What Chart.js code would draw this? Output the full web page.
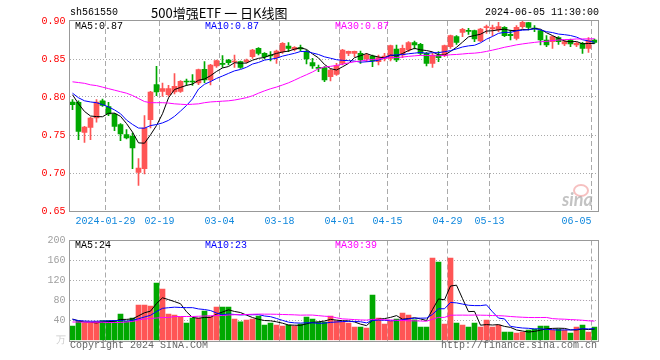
<!DOCTYPE html>
<html>
<head>
<meta charset="utf-8">
<script src="https://cdn.jsdelivr.net/npm/chart.js@4.4.1/dist/chart.umd.min.js"></script>
<style>
  body { margin: 0; background: #fff; }
  #wrap { position: relative; width: 660px; height: 360px; overflow: hidden; font-family: "Liberation Mono", "DejaVu Sans Mono", monospace; font-size: 10px; }
  .txt { position: absolute; white-space: pre; line-height: 12px; }
  #kbox { position: absolute; left: 0; top: 0; width: 660px; height: 231px; }
  #vbox { position: absolute; left: 0; top: 230px; width: 660px; height: 130px; }
</style>
</head>
<body>
<div id="wrap">
  <div id="kbox"><canvas id="kchart"></canvas></div>
  <div id="vbox"><canvas id="vchart"></canvas></div>

  <div class="txt" style="left:70px;top:7px;color:#000">sh561550</div>
  <div class="txt" style="left:151px;top:5px;font-family:'Noto Sans CJK SC';font-size:13px;line-height:15px;color:#000">500增强ETF 一 日K线图</div>
  <div class="txt" style="left:485px;top:7px;color:#000">2024-06-05 11:30:00</div>

  <div class="txt" style="left:75px;top:21px;color:#000">MA5:0.87</div>
  <div class="txt" style="left:205px;top:21px;color:#0000ff">MA10:0.87</div>
  <div class="txt" style="left:335px;top:21px;color:#ff00ff">MA30:0.87</div>

  <div class="txt" style="left:75px;top:240px;color:#000">MA5:24</div>
  <div class="txt" style="left:205px;top:240px;color:#0000ff">MA10:23</div>
  <div class="txt" style="left:335px;top:240px;color:#ff00ff">MA30:39</div>

  <div class="txt" style="left:70px;top:340px;color:#666">Copyright 2024 SINA.COM</div>
  <div class="txt" style="left:441px;top:340px;color:#666">http://finance.sina.com.cn</div>

  <div style="position:absolute;left:573px;top:184px;width:12px;height:9px;border:2px solid rgba(240,150,150,0.6);border-radius:50%"></div>
  <div class="txt" style="left:562px;top:190px;font-family:Lato;font-style:italic;font-weight:bold;font-size:18px;line-height:18px;color:rgba(170,170,170,0.7)">sina</div>
</div>

<script>
"use strict";

var dates = [
  '2024-01-19','2024-01-22','2024-01-23','2024-01-24','2024-01-25','2024-01-26','2024-01-29','2024-01-30','2024-01-31',
  '2024-02-01','2024-02-02','2024-02-05','2024-02-06','2024-02-07','2024-02-08','2024-02-19','2024-02-20','2024-02-21',
  '2024-02-22','2024-02-23','2024-02-26','2024-02-27','2024-02-28','2024-02-29',
  '2024-03-01','2024-03-04','2024-03-05','2024-03-06','2024-03-07','2024-03-08','2024-03-11','2024-03-12','2024-03-13',
  '2024-03-14','2024-03-15','2024-03-18','2024-03-19','2024-03-20','2024-03-21','2024-03-22','2024-03-25','2024-03-26',
  '2024-03-27','2024-03-28','2024-03-29',
  '2024-04-01','2024-04-02','2024-04-03','2024-04-08','2024-04-09','2024-04-10','2024-04-11','2024-04-12','2024-04-15',
  '2024-04-16','2024-04-17','2024-04-18','2024-04-19','2024-04-22','2024-04-23','2024-04-24','2024-04-25','2024-04-26',
  '2024-04-29','2024-04-30',
  '2024-05-06','2024-05-07','2024-05-08','2024-05-09','2024-05-10','2024-05-13','2024-05-14','2024-05-15','2024-05-16',
  '2024-05-17','2024-05-20','2024-05-21','2024-05-22','2024-05-23','2024-05-24','2024-05-27','2024-05-28','2024-05-29',
  '2024-05-30','2024-05-31',
  '2024-06-03','2024-06-04','2024-06-05'
];

var opens = [
  0.7934,0.7930,0.7535,0.7600,0.7724,0.7950,0.7873,0.7776,0.7636,0.7504,
  0.7482,0.7009,0.7057,0.7702,0.8162,0.8075,0.8031,0.8066,0.8075,0.8206,
  0.8206,0.8184,0.8364,0.8224,0.8408,0.8443,0.8487,0.8460,0.8465,0.8465,
  0.8531,0.8640,0.8575,0.8553,0.8518,0.8596,0.8671,0.8627,0.8649,0.8596,
  0.8452,0.8390,0.8386,0.8268,0.8298,0.8443,0.8575,0.8575,0.8575,0.8500,
  0.8540,0.8465,0.8509,0.8509,0.8632,0.8553,0.8618,0.8715,0.8693,0.8575,
  0.8443,0.8553,0.8544,0.8662,0.8794,0.8851,0.8870,0.8873,0.8737,0.8912,
  0.8895,0.8882,0.8917,0.8825,0.8772,0.8925,0.8978,0.8904,0.8873,0.8750,
  0.8728,0.8781,0.8697,0.8750,0.8684,0.8706,0.8640,0.8750
];
var closes = [
  0.7900,0.7548,0.7605,0.7724,0.7934,0.7890,0.7776,0.7614,0.7513,0.7460,
  0.7329,0.7066,0.7592,0.8066,0.8066,0.8110,0.8110,0.8140,0.8206,0.8197,
  0.8197,0.8360,0.8224,0.8421,0.8478,0.8430,0.8452,0.8474,0.8390,0.8487,
  0.8618,0.8575,0.8531,0.8540,0.8605,0.8706,0.8640,0.8654,0.8632,0.8500,
  0.8408,0.8377,0.8224,0.8355,0.8412,0.8618,0.8601,0.8600,0.8487,0.8553,
  0.8474,0.8518,0.8540,0.8675,0.8487,0.8640,0.8715,0.8684,0.8575,0.8443,
  0.8553,0.8518,0.8675,0.8807,0.8719,0.8890,0.8864,0.8763,0.8895,0.8925,
  0.8912,0.8925,0.8807,0.8807,0.8917,0.8982,0.8917,0.8895,0.8750,0.8684,
  0.8794,0.8728,0.8728,0.8697,0.8706,0.8640,0.8750,0.8719
];
var highs = [
  0.7965,0.7950,0.7614,0.7732,0.7965,0.7974,0.7930,0.7785,0.7650,0.7570,
  0.7526,0.7189,0.7754,0.8075,0.8403,0.8184,0.8153,0.8307,0.8215,0.8237,
  0.8294,0.8368,0.8465,0.8430,0.8487,0.8544,0.8496,0.8553,0.8474,0.8500,
  0.8627,0.8649,0.8583,0.8596,0.8618,0.8715,0.8715,0.8662,0.8684,0.8618,
  0.8509,0.8421,0.8399,0.8370,0.8443,0.8627,0.8605,0.8605,0.8605,0.8575,
  0.8553,0.8553,0.8575,0.8684,0.8684,0.8684,0.8728,0.8737,0.8706,0.8588,
  0.8575,0.8596,0.8684,0.8816,0.8807,0.8904,0.8904,0.8882,0.8904,0.8947,
  0.8947,0.8982,0.8925,0.8882,0.8939,0.9000,0.8982,0.8939,0.8882,0.8807,
  0.8803,0.8794,0.8750,0.8763,0.8719,0.8719,0.8781,0.8763
];
var lows = [
  0.7833,0.7439,0.7403,0.7439,0.7670,0.7877,0.7754,0.7557,0.7425,0.7450,
  0.7057,0.6838,0.6987,0.7592,0.8018,0.8009,0.8009,0.8040,0.8061,0.8153,
  0.8153,0.8162,0.8189,0.8158,0.8390,0.8390,0.8421,0.8390,0.8377,0.8450,
  0.8509,0.8553,0.8500,0.8474,0.8443,0.8575,0.8596,0.8605,0.8605,0.8434,
  0.8377,0.8333,0.8202,0.8210,0.8285,0.8421,0.8544,0.8531,0.8443,0.8465,
  0.8400,0.8421,0.8474,0.8474,0.8465,0.8518,0.8596,0.8632,0.8553,0.8408,
  0.8390,0.8465,0.8530,0.8640,0.8693,0.8794,0.8825,0.8728,0.8728,0.8838,
  0.8807,0.8860,0.8794,0.8750,0.8750,0.8904,0.8882,0.8860,0.8684,0.8662,
  0.8640,0.8693,0.8675,0.8662,0.8662,0.8575,0.8588,0.8706
];
// 成交量, 万手
var volumes = [
  28.7,38.6,35.3,35.0,38.0,40.0,40.0,40.0,52.6,38.6,
  45.0,70.6,70.6,68.6,114.6,102.6,52.6,50.6,47.3,34.6,
  45.0,45.0,58.6,48.0,66.6,66.6,66.6,42.6,37.3,40.6,
  42.6,48.6,30.6,34.6,30.6,28.6,30.6,28.6,32.6,46.6,
  42.6,36.6,36.6,48.6,39.3,36.6,34.6,26.6,26.6,24.6,
  90.6,44.6,32.6,38.6,42.6,54.6,50.6,41.3,26.6,26.6,
  164.6,156.6,32.6,164.6,34.6,30.6,26.6,34.6,26.6,40.6,
  26.6,30.6,16.6,16.6,14.6,16.6,20.6,22.6,28.6,28.6,
  20.6,22.6,20.6,14.6,26.6,30.6,16.6,26.6
];

// MA values at the left edge (their windows start before the first visible day)
var ma5Head = [0.803,0.791,0.781,0.775];
var ma10Head = [0.805,0.799,0.795,0.7935,0.7925,0.790,0.787,0.783,0.778];
var ma30Head = [
  0.820,0.819,0.818,0.816,0.815,0.813,0.811,0.809,0.807,0.805,
  0.802,0.798,0.794,0.7925,0.7925,0.7925,0.792,0.791,0.7905,0.790,
  0.7905,0.791,0.7925,0.7935,0.794,0.7945,0.795,0.796,0.7975
];
var vma5Head = [43,39,37,36.5];
var vma10Head = [42,40,39,38.5,38.5,39,39.5,40,40];
var vma30Head = [
  37,37,36.5,36.5,36.5,36.5,36,36,36,37,
  38,41,43,44,45,46,46,48,48,48,
  48,48.5,49,49.5,50,50,51,51.5,52
];

var tickDates = ['2024-01-29','2024-02-19','2024-03-04','2024-03-18','2024-04-01',
                 '2024-04-15','2024-04-29','2024-05-13','2024-06-05'];

var RED = '#ff5555', GREEN = '#00a800';
var MONO = '"Liberation Mono", "DejaVu Sans Mono", monospace';

function movingAvg(src, n, head){
    var out = [];
    for (var i = 0; i < src.length; i++){
        if (i < n - 1){ out.push(head[i]); continue; }
        var s = 0;
        for (var k = i - n + 1; k <= i; k++) s += src[k];
        out.push(s / n);
    }
    return out;
}

function candleColor(ctx){
    var i = ctx.dataIndex;
    return closes[i] >= opens[i] ? RED : GREEN;
}

function dateGrid(ctx){
    var d = dates[ctx.index];
    return (d && tickDates.indexOf(d) >= 0) ? '#aaaaaa' : 'rgba(0,0,0,0)';
}

var framePlugin = {
    id: 'frame',
    afterDraw: function(chart){
        var a = chart.chartArea, c = chart.ctx;
        c.save();
        c.strokeStyle = '#999999';
        c.lineWidth = 1;
        c.strokeRect(Math.round(a.left) - 0.5, Math.round(a.top) - 0.5,
                     Math.round(a.right - a.left) + 1, Math.round(a.bottom - a.top) + 1);
        c.restore();
    }
};

function lineSet(data, color){
    return { type: 'line', data: data, borderColor: color, borderWidth: 1,
             pointRadius: 0, tension: 0, order: 0 };
}

var xGrid = { offset: true, drawTicks: false, color: dateGrid, lineWidth: 1 };

new Chart(document.getElementById('kchart'), {
    type: 'bar',
    data: {
        labels: dates,
        datasets: [
            lineSet(movingAvg(closes, 30, ma30Head), '#ff00ff'),
            lineSet(movingAvg(closes, 10, ma10Head), '#0000ff'),
            lineSet(movingAvg(closes, 5, ma5Head), '#000000'),
            {
                data: lows.map(function(l, i){ return [l, highs[i]]; }),
                backgroundColor: candleColor, barThickness: 1, grouped: false, order: 2
            },
            {
                data: opens.map(function(o, i){ return [o, closes[i]]; }),
                backgroundColor: candleColor, barThickness: 5, minBarLength: 1, grouped: false, order: 1
            }
        ]
    },
    options: {
        responsive: true,
        maintainAspectRatio: false,
        animation: false,
        layout: { padding: { top: 21, right: 62.5, bottom: 0, left: 0 } },
        plugins: { legend: { display: false }, tooltip: { enabled: false } },
        scales: {
            x: {
                offset: true,
                grid: xGrid,
                border: { display: false, dash: [5, 3] },
                ticks: {
                    autoSkip: false, maxRotation: 0, minRotation: 0, padding: 4, labelOffset: -3,
                    color: '#1188dd', font: { family: MONO, size: 10 },
                    callback: function(v, index){
                        var d = dates[index];
                        var k = tickDates.indexOf(d);
                        if (k < 0) return '';
                        if (k == 0) return d;
                        if (k == tickDates.length - 1) return d.slice(5) + '     ';
                        return d.slice(5);
                    }
                },
                afterFit: function(s){ s.height = 20; }
            },
            y: {
                min: 0.65, max: 0.90,
                ticks: {
                    stepSize: 0.05, padding: 4, color: '#ff0000', font: { family: MONO, size: 10 },
                    callback: function(v){ return v.toFixed(2); }
                },
                grid: {
                    drawTicks: false,
                    color: function(ctx){
                        var v = ctx.tick ? ctx.tick.value : 0;
                        return (v > 0.651 && v < 0.899) ? '#aaaaaa' : 'rgba(0,0,0,0)';
                    }
                },
                border: { display: false, dash: [1, 2] },
                afterFit: function(s){ s.width = 69.5; }
            }
        }
    },
    plugins: [framePlugin]
});

new Chart(document.getElementById('vchart'), {
    type: 'bar',
    data: {
        labels: dates,
        datasets: [
            lineSet(movingAvg(volumes, 30, vma30Head), '#ff00ff'),
            lineSet(movingAvg(volumes, 10, vma10Head), '#0000ff'),
            lineSet(movingAvg(volumes, 5, vma5Head), '#000000'),
            {
                data: volumes,
                backgroundColor: candleColor, barThickness: 5, order: 1
            }
        ]
    },
    options: {
        responsive: true,
        maintainAspectRatio: false,
        animation: false,
        layout: { padding: { top: 10.5, right: 62.5, bottom: 0, left: 0 } },
        plugins: { legend: { display: false }, tooltip: { enabled: false } },
        scales: {
            x: {
                offset: true,
                grid: xGrid,
                border: { display: false, dash: [5, 3] },
                ticks: { display: false },
                afterFit: function(s){ s.height = 19.5; }
            },
            y: {
                min: 0, max: 200,
                ticks: {
                    stepSize: 40, padding: 4, font: { family: MONO, size: 10 },
                    color: function(ctx){ return ctx.tick && ctx.tick.value == 0 ? '#cccccc' : '#a0a0a0'; },
                    callback: function(v){ return v == 0 ? '万' : v; }
                },
                grid: {
                    drawTicks: false,
                    color: function(ctx){
                        var v = ctx.tick ? ctx.tick.value : 0;
                        return (v > 0 && v < 200) ? '#aaaaaa' : 'rgba(0,0,0,0)';
                    }
                },
                border: { display: false, dash: [1, 2] },
                afterFit: function(s){ s.width = 69.5; }
            }
        }
    },
    plugins: [framePlugin]
});
</script>
</body>
</html>
